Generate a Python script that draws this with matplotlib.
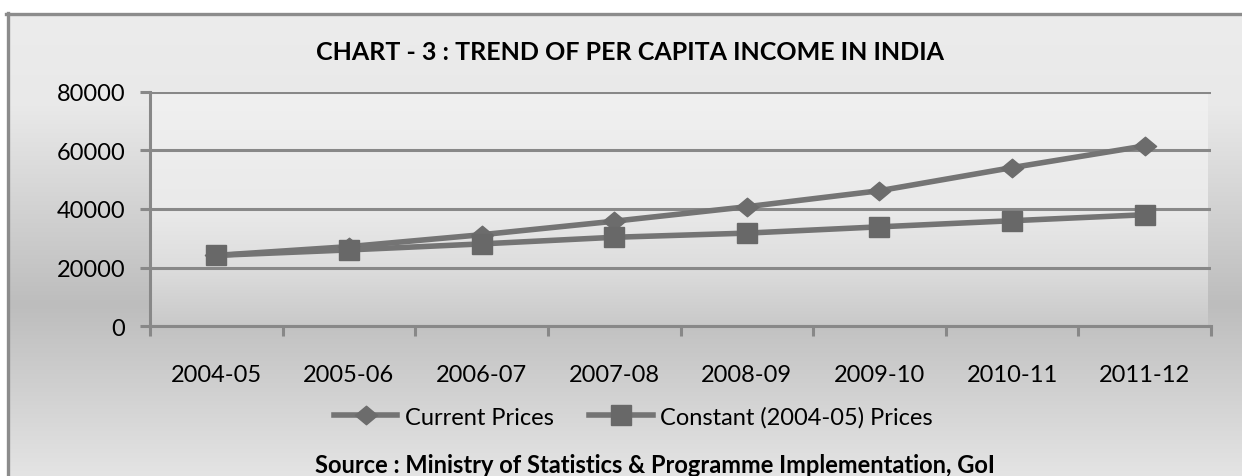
import numpy as np
import matplotlib.pyplot as plt
from matplotlib.colors import LinearSegmentedColormap
from matplotlib.lines import Line2D
from matplotlib.path import Path

years = ['2004-05', '2005-06', '2006-07', '2007-08',
         '2008-09', '2009-10', '2010-11', '2011-12']
current_prices = [24143, 27131, 31206, 35825, 40775, 46249, 54151, 61564]
constant_prices = [24143, 26015, 28067, 30332, 31754, 33901, 35993, 38037]
y_ticks = [0, 20000, 40000, 60000, 80000]

W, H = 1242, 477
plt.rcParams['font.family'] = ['Lato', 'DejaVu Sans']

fig = plt.figure(figsize=(W / 100, H / 100), dpi=100)
fig.patch.set_facecolor('white')

# chart area background (vertical gradient) and frame
bg = fig.add_axes([0, 0, 1, 1])
bg.set_xlim(0, W)
bg.set_ylim(H, 0)
bg.axis('off')
outer_cmap = LinearSegmentedColormap.from_list(
    'outer', [(0.0, '#ececec'), (0.2, '#e9e9e9'), (0.63, '#bdbdbd'),
              (1.0, '#e4e4e4')])
grad = np.linspace(0, 1, 256).reshape(-1, 1)
bg.imshow(grad, cmap=outer_cmap, aspect='auto', extent=[7, W, H, 14],
          interpolation='bicubic', zorder=0)
bg.add_line(Line2D([7.5, 7.5], [14, H], color='#8c8c8c', lw=2.4))
bg.add_line(Line2D([6, W], [14.5, 14.5], color='#8c8c8c', lw=2.4))

# plot area
x0, x1, ytop, ybot = 150, 1211, 93, 327
ax = fig.add_axes([x0 / W, (H - ybot) / H, (x1 - x0) / W, (ybot - ytop) / H])
ax.set_facecolor('none')
inner_cmap = LinearSegmentedColormap.from_list(
    'inner', [(0.0, '#f0f0f0'), (0.5, '#eaeaea'), (0.75, '#dddddd'),
              (1.0, '#c9c9c9')])
ax.imshow(grad, cmap=inner_cmap, aspect='auto', extent=[0, 0.997, 0, 1],
          transform=ax.transAxes, zorder=0)

gcol = '#888888'
x = np.arange(len(years))
diamond = Path([(-1.2, 0), (0, 1), (1.2, 0), (0, -1), (-1.2, 0)],
               [Path.MOVETO, Path.LINETO, Path.LINETO, Path.LINETO, Path.CLOSEPOLY])
ax.plot(x, current_prices, color='#747474', lw=4.0, marker=diamond,
        markersize=16, markerfacecolor='#6c6c6c', markeredgecolor='#6c6c6c',
        label='Current Prices', zorder=3)
ax.plot(x, constant_prices, color='#747474', lw=4.0, marker='s',
        markersize=14, markerfacecolor='#686868', markeredgecolor='#686868',
        label='Constant (2004-05) Prices', zorder=3)

ax.set_xlim(-0.5, len(years) - 0.5)
ax.set_ylim(0, 80000)
ax.set_yticks(y_ticks)
ax.set_yticklabels([str(v) for v in y_ticks])
ax.set_xticks(np.arange(-0.5, len(years), 1.0))
ax.set_xticklabels([])
ax.set_xticks(x, minor=True)
ax.set_xticklabels(years, minor=True)
ax.tick_params(axis='x', which='major', length=7, width=2.2, color=gcol,
               direction='out')
ax.tick_params(axis='x', which='minor', length=0, pad=27, labelsize=17)
ax.tick_params(axis='y', length=7, width=2.2, color=gcol, pad=11,
               labelsize=17)
for s in ['top', 'right']:
    ax.spines[s].set_visible(False)
for s in ['left', 'bottom']:
    ax.spines[s].set_color(gcol)
    ax.spines[s].set_linewidth(2.2)
ax.set_axisbelow(True)
ax.yaxis.grid(True, color=gcol, lw=2.2)

fig.text(630 / W, 1 - 52 / H, 'CHART - 3 : TREND OF PER CAPITA INCOME IN INDIA',
         ha='center', va='center', fontsize=18, fontweight='bold')

leg = fig.legend(loc='center', bbox_to_anchor=(633 / W, 1 - 418 / H), ncol=2,
                 frameon=False, fontsize=17, handlelength=2.7,
                 handletextpad=0.3, columnspacing=1.5)

fig.text(655 / W, 1 - 466 / H,
         'Source : Ministry of Statistics & Programme Implementation, GoI',
         ha='center', va='center', fontsize=17, fontweight='bold')

fig.savefig('out.png', dpi=100)
